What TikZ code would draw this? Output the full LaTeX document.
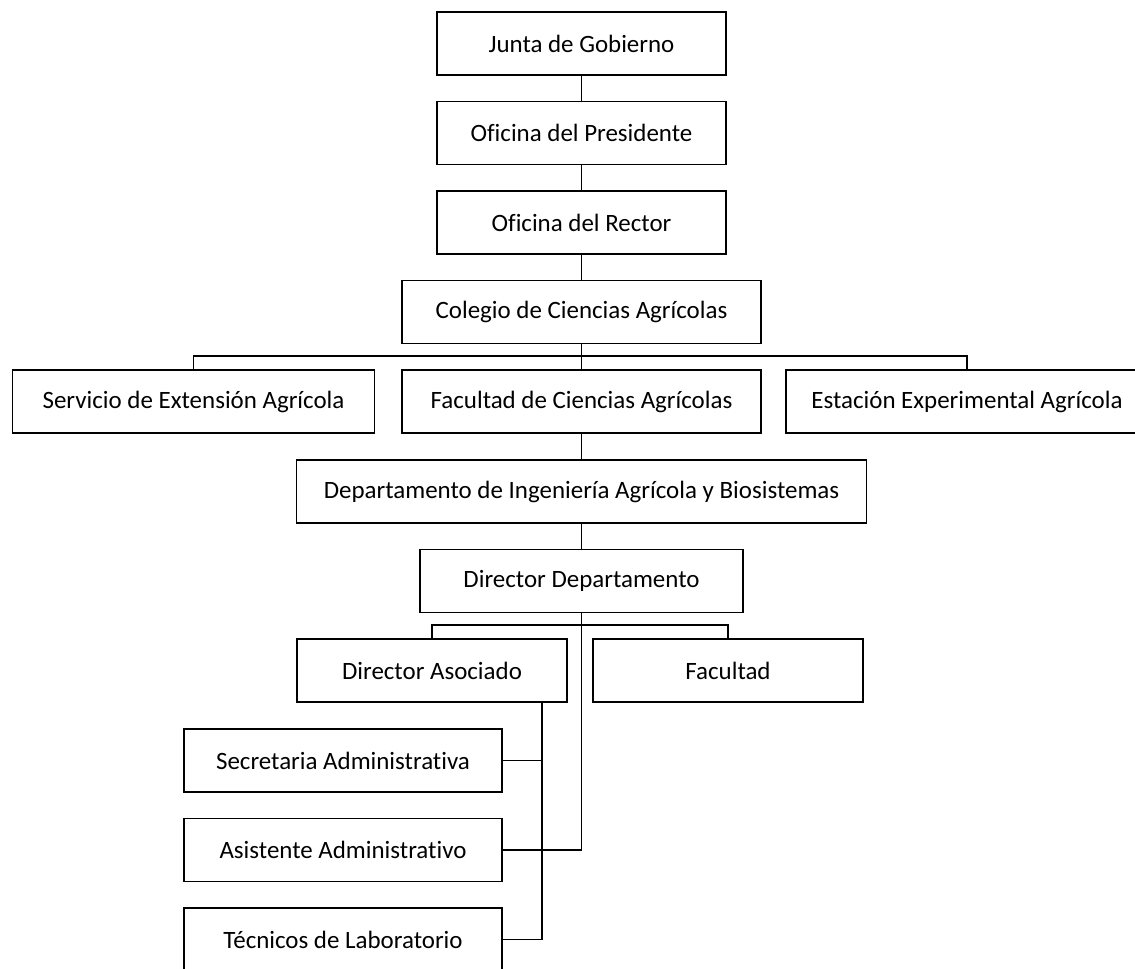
\documentclass[tikz,border=0pt]{standalone}
\usepackage{fontspec}
\setmainfont{Carlito}[Ligatures=NoCommon]
\begin{document}
\begin{tikzpicture}[x=0.02cm,y=-0.02cm,
    box/.style={draw,line width=0.85pt,minimum height=1.26cm,inner sep=0pt,font=\fontsize{14.2}{17}\selectfont},
    link/.style={line width=0.7pt}]
    \useasboundingbox (0,0) rectangle (1135,968);
    \node [box,minimum width=5.78cm] (junta) at (581.5,43.5) {Junta de Gobierno};
    \node [box,minimum width=5.78cm] (presidente) at (581.5,133) {Oficina del Presidente};
    \node [box,minimum width=5.78cm] (rector) at (581.5,222.5) {Oficina del Rector};
    \node [box,minimum width=7.18cm] (colegio) at (581.5,312) {Colegio de Ciencias Agrícolas};
    \node [box,minimum width=7.24cm] (servicio) at (193.5,401.5) {Servicio de Extensión Agrícola};
    \node [box,minimum width=7.18cm] (facultadca) at (581.5,401.5) {Facultad de Ciencias Agrícolas};
    \node [box,minimum width=7.24cm] (estacion) at (967,401.5) {Estación Experimental Agrícola};
    \node [box,minimum width=11.4cm] (depto) at (581.5,491.5) {Departamento de Ingeniería Agrícola y Biosistemas};
    \node [box,minimum width=6.46cm] (director) at (581.5,581) {Director Departamento};
    \node [box,minimum width=5.4cm] (asociado) at (432,670.5) {Director Asociado};
    \node [box,minimum width=5.4cm] (facultad) at (728,670.5) {Facultad};
    \node [box,minimum width=6.36cm] (secretaria) at (343,760.5) {Secretaria Administrativa};
    \node [box,minimum width=6.36cm] (asistente) at (343,850) {Asistente Administrativo};
    \node [box,minimum width=6.36cm] (tecnicos) at (343,939.5) {Técnicos de Laboratorio};
    \coordinate (bus1) at (581.5,356);
    \coordinate (bus2) at (581.5,625);
    \coordinate (rama) at (542,702);
    \draw [link] (junta) -- (presidente);
    \draw [link] (presidente) -- (rector);
    \draw [link] (rector) -- (colegio);
    \draw [link] (colegio) -- (facultadca);
    \draw [link] (servicio.north) |- (bus1) -| (estacion.north);
    \draw [link] (facultadca) -- (depto);
    \draw [link] (depto) -- (director);
    \draw [link] (asociado.north) |- (bus2) -| (facultad.north);
    \draw [link] (director.south) -- (director.south |- asistente.east) -- (asistente.east);
    \draw [link] (rama) |- (tecnicos.east);
    \draw [link] (secretaria.east) -- (secretaria.east -| rama);
\end{tikzpicture}
\end{document}
